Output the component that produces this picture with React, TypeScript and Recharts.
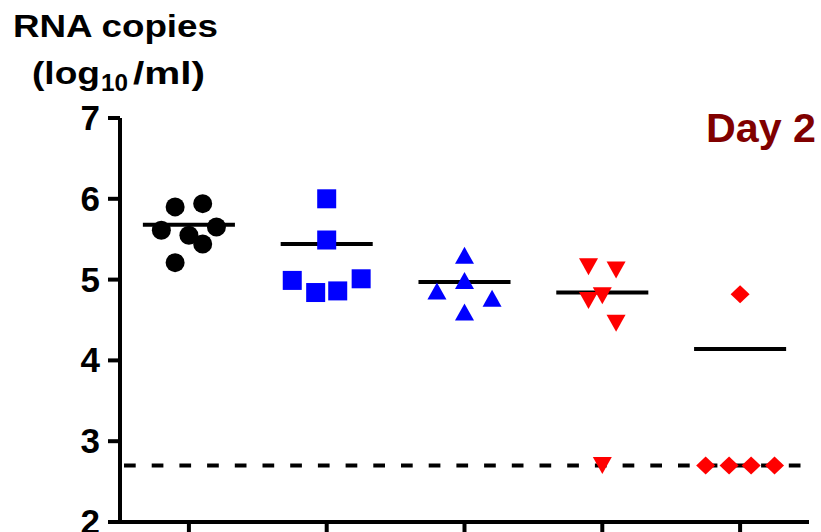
import { ScatterChart, Scatter, XAxis, YAxis, ReferenceLine } from "recharts";

const groups = [1, 2, 3, 4, 5];

// RNA copies (log10/ml) per animal
const g1Values = [5.9, 5.94, 5.61, 5.55, 5.65, 5.44, 5.21];
const g1Jitter = [-0.1, 0.1, -0.2, 0, 0.2, 0.1, -0.1];
const g2Values = [6.0, 5.49, 4.99, 4.84, 4.86, 5.01];
const g2Jitter = [0, 0, -0.25, -0.08, 0.08, 0.25];
const g3Values = [5.3, 4.99, 4.86, 4.77, 4.6];
const g3Jitter = [0, 0, -0.2, 0.2, 0];
const g4Values = [5.16, 5.12, 4.8, 4.74, 4.46, 2.7];
const g4Jitter = [-0.1, 0.1, 0, -0.1, 0.1, 0];
const g5Values = [4.82, 2.7, 2.7, 2.7, 2.7];
const g5Jitter = [0, -0.25, -0.08, 0.08, 0.25];

const means = [5.68, 5.44, 4.97, 4.84, 4.14];
const detectionLimit = 2.7;
const yTicks = [2, 3, 4, 5, 6, 7];

const toPoints = (group: number, values: number[], jitter: number[]) =>
  values.map((y, i) => ({ x: group + jitter[i], y }));

const Circle = ({ cx, cy }: any) => <circle cx={cx} cy={cy} r={9.5} fill="#000" />;
const Square = ({ cx, cy }: any) => (
  <rect x={cx - 9.5} y={cy - 9.5} width={19} height={19} fill="#0000ff" />
);
const TriUp = ({ cx, cy }: any) => (
  <polygon points={`${cx},${cy - 8.5} ${cx + 9.5},${cy + 8.5} ${cx - 9.5},${cy + 8.5}`} fill="#0000ff" />
);
const TriDown = ({ cx, cy }: any) => (
  <polygon points={`${cx - 9.5},${cy - 8.5} ${cx + 9.5},${cy - 8.5} ${cx},${cy + 8.5}`} fill="#ff0000" />
);
const Diamond = ({ cx, cy }: any) => (
  <polygon points={`${cx},${cy - 9} ${cx + 9.5},${cy} ${cx},${cy + 9} ${cx - 9.5},${cy}`} fill="#ff0000" />
);

const YTick = ({ x, y, payload }: any) => (
  <text
    x={x}
    y={y}
    dy={12}
    textAnchor="end"
    fontFamily="Liberation Sans, Arial, sans-serif"
    fontWeight="bold"
    fontSize={35}
    fill="#000"
  >
    {payload.value}
  </text>
);

const font = "Liberation Sans, Arial, sans-serif";

export default function App() {
  return (
    <div style={{ position: "absolute", left: 0, top: 0, width: 821, height: 532, background: "#fff" }}>
      <ScatterChart width={821} height={532} margin={{ top: 118, right: 12, bottom: 0, left: 0 }}>
        <XAxis
          type="number"
          dataKey="x"
          domain={[0.5, 5.5]}
          ticks={groups}
          height={10}
          tickSize={12}
          tickFormatter={() => ""}
          axisLine={{ stroke: "#000", strokeWidth: 4 }}
          tickLine={{ stroke: "#000", strokeWidth: 4 }}
        />
        <YAxis
          type="number"
          dataKey="y"
          domain={[2, 7]}
          ticks={yTicks}
          width={120}
          tickSize={12}
          tickMargin={8}
          tick={<YTick />}
          axisLine={{ stroke: "#000", strokeWidth: 4 }}
          tickLine={{ stroke: "#000", strokeWidth: 4 }}
        />
        <ReferenceLine
          y={detectionLimit}
          stroke="#000"
          strokeWidth={4}
          strokeDasharray="11.7 16"
          strokeDashoffset={-4}
        />
        {groups.map((g, i) => (
          <ReferenceLine
            key={g}
            segment={[
              { x: g - 0.334, y: means[i] },
              { x: g + 0.334, y: means[i] },
            ]}
            stroke="#000"
            strokeWidth={4}
          />
        ))}
        <Scatter data={toPoints(1, g1Values, g1Jitter)} shape={<Circle />} isAnimationActive={false} />
        <Scatter data={toPoints(2, g2Values, g2Jitter)} shape={<Square />} isAnimationActive={false} />
        <Scatter data={toPoints(3, g3Values, g3Jitter)} shape={<TriUp />} isAnimationActive={false} />
        <Scatter data={toPoints(4, g4Values, g4Jitter)} shape={<TriDown />} isAnimationActive={false} />
        <Scatter data={toPoints(5, g5Values, g5Jitter)} shape={<Diamond />} isAnimationActive={false} />
      </ScatterChart>
      <svg
        width={821}
        height={532}
        style={{ position: "absolute", left: 0, top: 0, pointerEvents: "none" }}
        fontFamily={font}
        fontWeight="bold"
      >
        <text x={13} y={37} fontSize={31} textLength={205} lengthAdjust="spacingAndGlyphs" fill="#000">
          RNA copies
        </text>
        <text x={32} y={84} fontSize={32} textLength={68} lengthAdjust="spacingAndGlyphs" fill="#000">
          (log
        </text>
        <text x={101} y={91} fontSize={24} textLength={27} lengthAdjust="spacingAndGlyphs" fill="#000">
          10
        </text>
        <text x={133} y={84} fontSize={32} textLength={72} lengthAdjust="spacingAndGlyphs" fill="#000">
          /ml)
        </text>
        <text x={706} y={142} fontSize={41} textLength={110} lengthAdjust="spacingAndGlyphs" fill="#800000">
          Day 2
        </text>
      </svg>
    </div>
  );
}
